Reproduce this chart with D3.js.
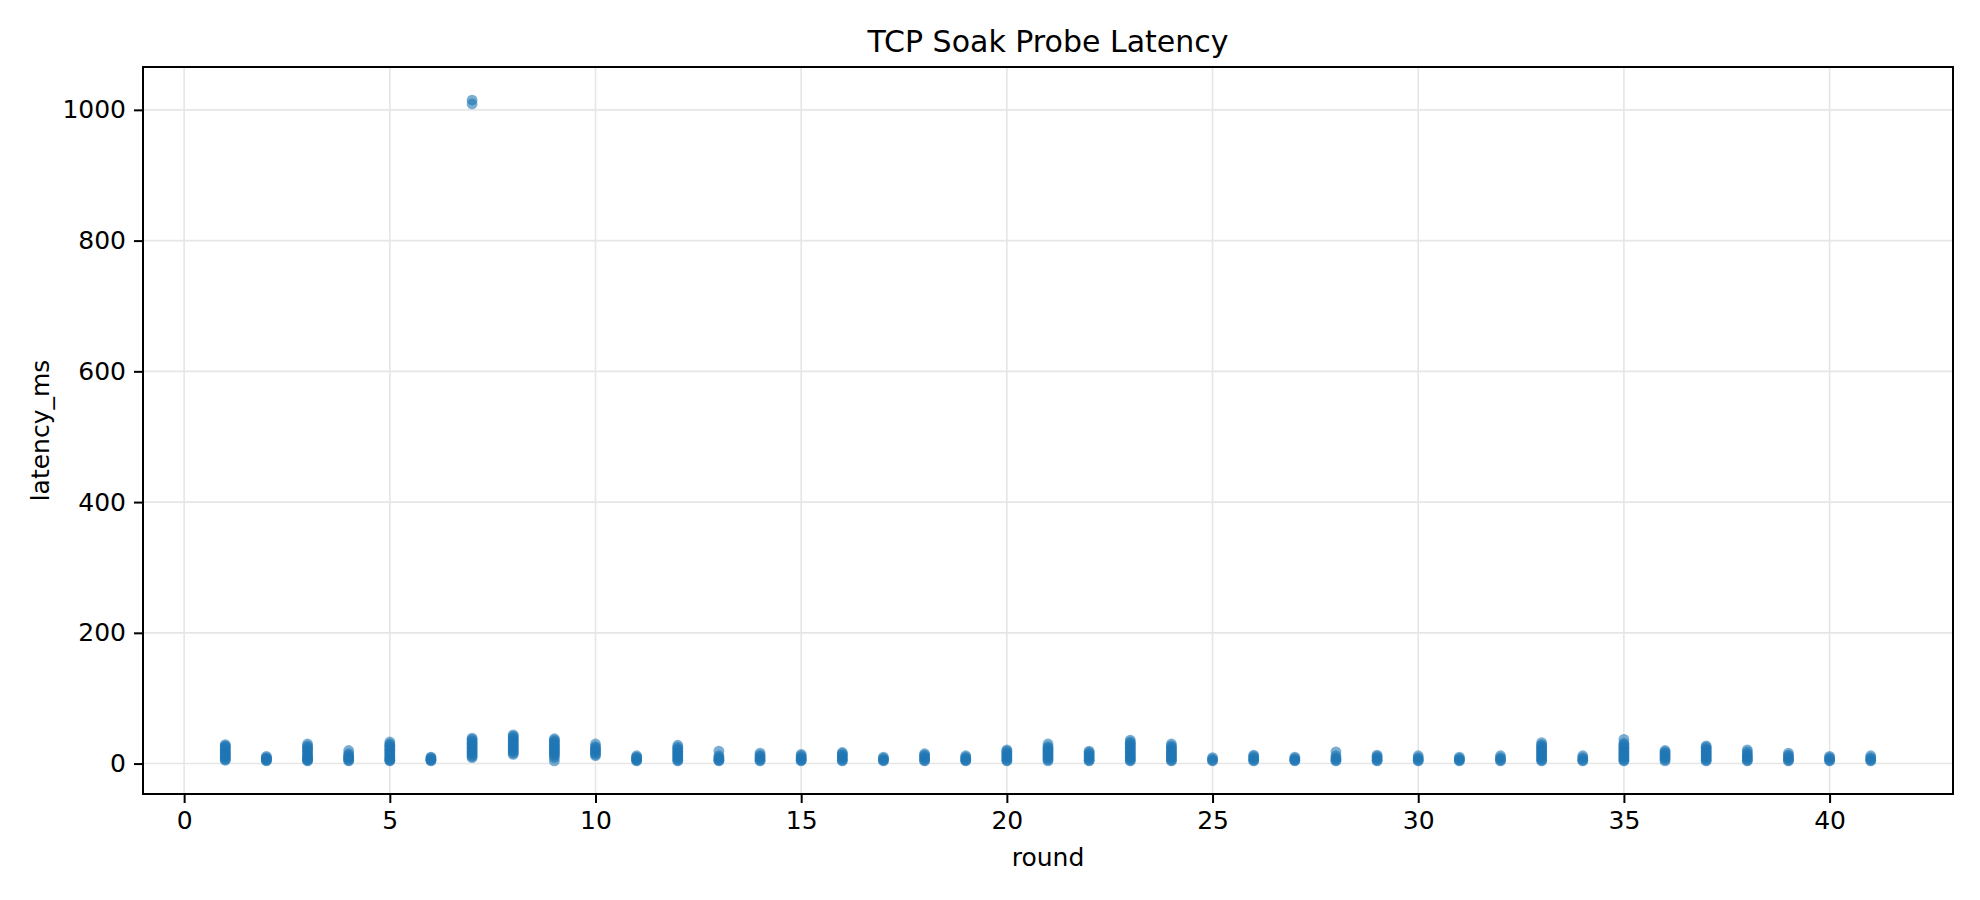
<!DOCTYPE html>
<html>
<head>
	<title>TCP Soak Probe Latency</title>
	<script src="https://d3js.org/d3.v7.min.js"></script>
	<style type="text/css">
		body { margin: 0; background: #fff; }
		svg { display: block; font-family: "DejaVu Sans", sans-serif; }
		.grid line { stroke: #e6e6e6; stroke-width: 1.6; }
	</style>
</head>
<body>

<div id="svg"></div>

<script type="text/javascript">

	// probe rounds and the latencies (ms) seen in each round
	var rounds = d3.range(1, 42);

	var latencies = [
		[5, 6, 8, 10, 11, 13, 15, 17, 18, 20, 22, 24, 26, 27, 29],
		[4, 5, 6, 7, 8, 9, 11],
		[4, 5, 6, 7, 9, 10, 12, 14, 17, 19, 21, 23, 25, 27, 30],
		[4, 5, 7, 8, 10, 11, 13, 15, 20],
		[4, 5, 6, 8, 10, 12, 14, 16, 18, 20, 22, 24, 26, 28, 30, 33],
		[4, 5, 6, 7, 9, 10],
		[9, 11, 13, 15, 17, 19, 21, 23, 25, 27, 29, 31, 33, 35, 37, 39, 1009, 1015],
		[14, 16, 18, 20, 22, 24, 26, 28, 30, 32, 34, 36, 38, 40, 42, 44],
		[4, 9, 12, 14, 16, 18, 20, 22, 24, 26, 28, 30, 32, 34, 36, 38],
		[12, 14, 16, 18, 20, 22, 24, 26, 30],
		[4, 5, 6, 7, 9, 10, 12],
		[4, 5, 7, 9, 11, 13, 15, 17, 19, 21, 23, 25, 28],
		[4, 5, 6, 8, 10, 12, 19],
		[4, 5, 7, 9, 11, 13, 16],
		[4, 5, 6, 8, 10, 12, 14],
		[4, 5, 7, 9, 11, 13, 15, 17],
		[4, 5, 6, 8, 10],
		[4, 5, 7, 9, 11, 13, 15],
		[4, 5, 6, 8, 10, 12],
		[4, 5, 7, 9, 11, 13, 15, 17, 19, 21],
		[4, 6, 8, 10, 12, 14, 16, 18, 20, 22, 24, 26, 30],
		[4, 5, 7, 9, 11, 13, 15, 17, 19],
		[4, 5, 7, 9, 11, 13, 15, 17, 19, 21, 23, 25, 27, 29, 31, 33, 36],
		[4, 5, 7, 9, 11, 13, 15, 17, 19, 21, 23, 25, 27, 30],
		[4, 5, 7, 9],
		[4, 5, 7, 9, 11, 13],
		[4, 5, 6, 8, 10],
		[4, 5, 7, 9, 12, 18],
		[4, 5, 7, 9, 11, 13],
		[4, 5, 7, 9, 12],
		[4, 5, 6, 8, 10],
		[4, 5, 7, 9, 12],
		[4, 5, 7, 9, 11, 13, 15, 17, 19, 21, 23, 25, 27, 29, 32],
		[4, 5, 7, 9, 12],
		[4, 5, 7, 9, 11, 13, 15, 17, 19, 21, 23, 25, 27, 29, 31, 37],
		[4, 6, 8, 10, 12, 14, 16, 18, 20],
		[4, 5, 7, 9, 11, 13, 15, 17, 19, 21, 23, 25, 27],
		[4, 5, 7, 9, 11, 13, 15, 18, 21],
		[4, 5, 7, 9, 11, 13, 16],
		[4, 5, 7, 9, 11],
		[4, 5, 7, 9, 12]
	];

	var xTicks = [0, 5, 10, 15, 20, 25, 30, 35, 40];
	var yTicks = [0, 200, 400, 600, 800, 1000];

	var width = 1980,
	    height = 900,
	    margin = {top: 67, right: 27, bottom: 106, left: 143};

	// flatten into points
	var points = [];
	rounds.forEach(function(r, i) {
	    latencies[i].forEach(function(v) { points.push({round: r, ms: v}); });
	});

	// 5% padding like matplotlib autoscale
	function padded(ext) {
	    var p = (ext[1] - ext[0]) * 0.05;
	    return [ext[0] - p, ext[1] + p];
	}

	var xScale = d3.scaleLinear()
	    .domain(padded(d3.extent(points, d => d.round)))
	    .range([margin.left, width - margin.right]);

	var yScale = d3.scaleLinear()
	    .domain(padded(d3.extent(points, d => d.ms)))
	    .range([height - margin.bottom, margin.top]);

	var svg = d3.select("#svg")
	    .append("svg")
	    .attr("width", width)
	    .attr("height", height);

	// grid
	svg.append("g")
	    .attr("class", "grid")
	    .selectAll("line")
	    .data(xTicks)
	    .enter()
	    .append("line")
	    .attr("x1", d => xScale(d))
	    .attr("x2", d => xScale(d))
	    .attr("y1", margin.top)
	    .attr("y2", height - margin.bottom);

	svg.append("g")
	    .attr("class", "grid")
	    .selectAll("line")
	    .data(yTicks)
	    .enter()
	    .append("line")
	    .attr("x1", margin.left)
	    .attr("x2", width - margin.right)
	    .attr("y1", d => yScale(d))
	    .attr("y2", d => yScale(d));

	// points
	svg.append("g")
	    .selectAll("circle")
	    .data(points)
	    .enter()
	    .append("circle")
	    .attr("cx", d => xScale(d.round))
	    .attr("cy", d => yScale(d.ms))
	    .attr("r", 5.4)
	    .attr("fill", "#1f77b4")
	    .attr("fill-opacity", 0.6);

	// axes
	var xAxis = d3.axisBottom(xScale).tickValues(xTicks).tickSize(9).tickPadding(8).tickFormat(d3.format("d"));
	var yAxis = d3.axisLeft(yScale).tickValues(yTicks).tickSize(9).tickPadding(8).tickFormat(d3.format("d"));

	var gX = svg.append("g")
	    .attr("transform", "translate(0," + (height - margin.bottom) + ")")
	    .call(xAxis);

	var gY = svg.append("g")
	    .attr("transform", "translate(" + margin.left + ",0)")
	    .call(yAxis);

	[gX, gY].forEach(function(g) {
	    g.select(".domain").remove();
	    g.selectAll("line").attr("stroke", "#000").attr("stroke-width", 2);
	    g.selectAll("text")
	        .attr("fill", "#000")
	        .style("font-size", "25px")
	        .style("font-family", "DejaVu Sans, sans-serif");
	});

	// frame
	svg.append("rect")
	    .attr("x", margin.left)
	    .attr("y", margin.top)
	    .attr("width", width - margin.left - margin.right)
	    .attr("height", height - margin.top - margin.bottom)
	    .attr("fill", "none")
	    .attr("stroke", "#000")
	    .attr("stroke-width", 2);

	// title & labels
	svg.append("text")
	    .attr("x", (margin.left + width - margin.right) / 2)
	    .attr("y", 52)
	    .attr("text-anchor", "middle")
	    .style("font-size", "30px")
	    .text("TCP Soak Probe Latency");

	svg.append("text")
	    .attr("x", (margin.left + width - margin.right) / 2)
	    .attr("y", 866)
	    .attr("text-anchor", "middle")
	    .style("font-size", "25px")
	    .text("round");

	svg.append("text")
	    .attr("transform", "translate(49," + ((margin.top + height - margin.bottom) / 2) + ") rotate(-90)")
	    .attr("text-anchor", "middle")
	    .style("font-size", "25px")
	    .text("latency_ms");

</script>

</body>
</html>
